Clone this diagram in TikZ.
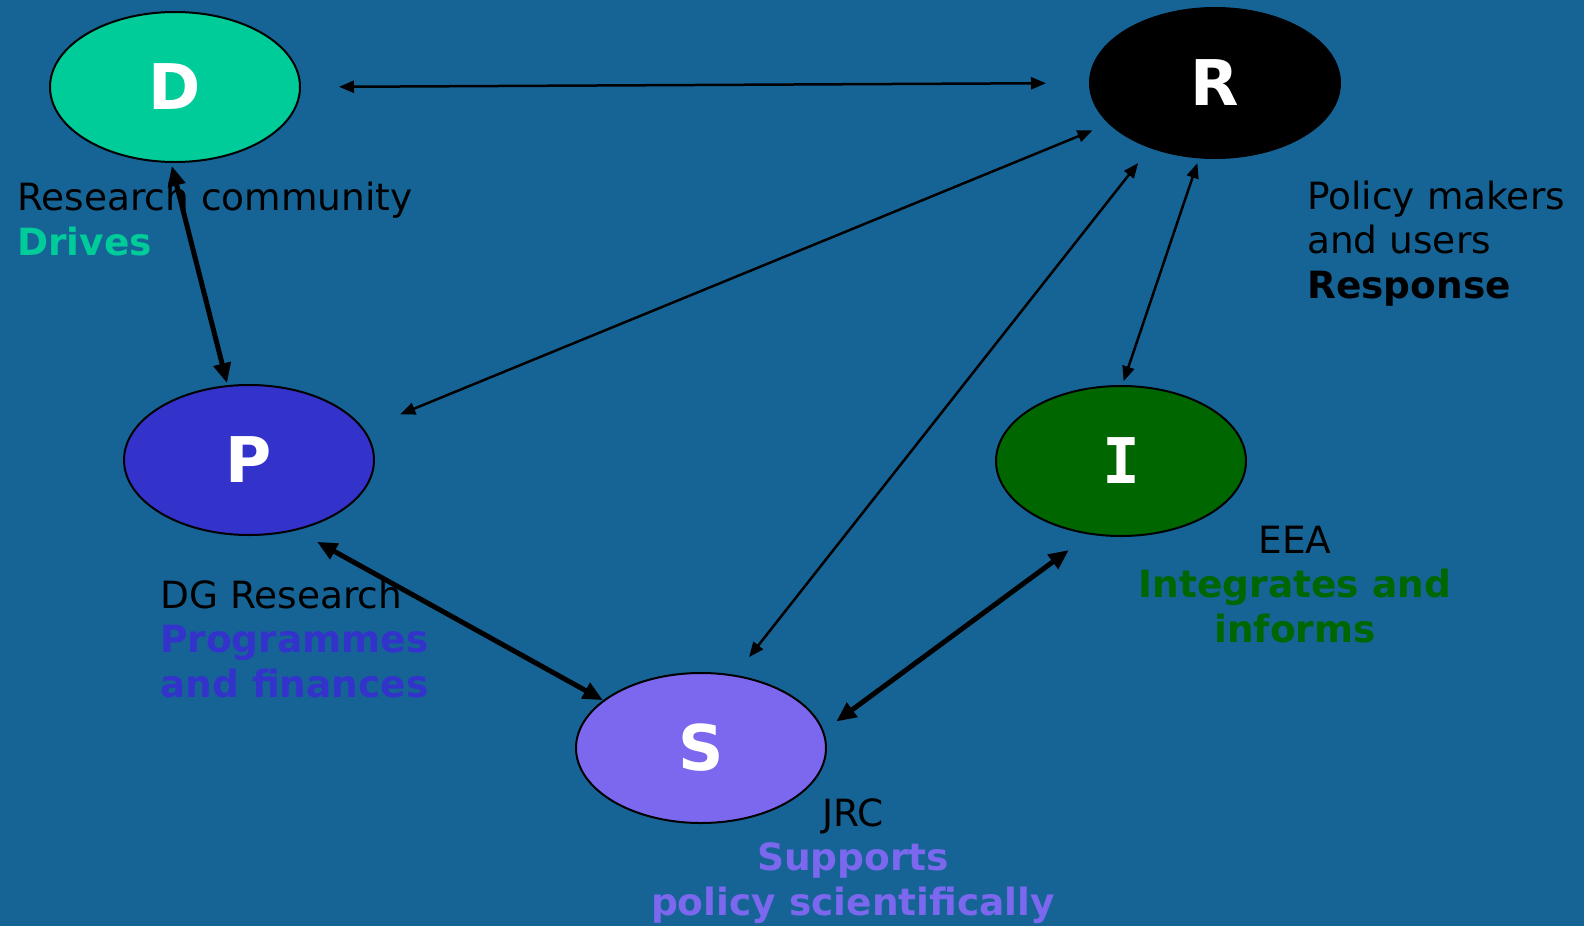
\documentclass[tikz,border=0pt]{standalone}
\usepackage{fontspec}
\setmainfont{DejaVu Sans}
\newfontfamily\monofam{DejaVu Sans Mono}
\usetikzlibrary{arrows.meta,shapes.geometric}
\definecolor{bgcol}{RGB}{22,100,150}
\definecolor{dcol}{RGB}{0,204,153}
\definecolor{pcol}{RGB}{51,51,204}
\definecolor{scol}{RGB}{123,104,238}
\definecolor{icol}{RGB}{0,102,0}
\tikzset{
  blob/.style={ellipse, draw=black, line width=2pt, minimum width=250pt, minimum height=150pt, inner sep=0pt, text=white, font={\fontsize{63}{70}\selectfont\bfseries}},
  lbl/.style={inner sep=0pt, text=black, font={\fontsize{37.5}{44.5}\selectfont}},
  thinarrow/.style={line width=2.5pt, {Triangle[length=15pt,width=12pt]}-{Triangle[length=15pt,width=12pt]}},
  thickarrow/.style={line width=5pt, {Triangle[length=20pt,width=17pt]}-{Triangle[length=20pt,width=17pt]}}
}
\begin{document}
\begin{tikzpicture}[x=1pt,y=-1pt]
\fill[bgcol] (0,0) rectangle (1584,926);
\useasboundingbox (0,0) rectangle (1584,926);

\node[blob, fill=dcol] (nD) at (175,87) {D};
\node[blob, fill=black] (nR) at (1215,83) {R};
\node[blob, fill=pcol] (nP) at (249,460) {P};
\node[blob, fill=scol] (nS) at (701,748) {S};
\node[blob, fill=icol] (nI) at (1121,461) {\monofam\bfseries I};

\node[lbl, anchor=base west, align=left] (tD) at (17,255) {Research community\\\textcolor{dcol}{\bfseries Drives}};
\node[lbl, anchor=base west, align=left] (tR) at (1307,298) {Policy makers\\and users\\\bfseries Response};
\node[lbl, anchor=base west, align=left] (tP) at (160,697) {DG Research\\\textcolor{pcol}{\bfseries Programmes}\\\textcolor{pcol}{\bfseries and finances}};
\node[lbl, anchor=base, align=center] (tS) at (853,915) {JRC\\\textcolor{scol}{\bfseries Supports}\\\textcolor{scol}{\bfseries policy scientifically}};
\node[lbl, anchor=base, align=center] (tI) at (1295,642) {EEA\\\textcolor{icol}{\bfseries Integrates and}\\\textcolor{icol}{\bfseries informs}};

\draw[thinarrow, shorten <=38pt, shorten >=43pt] (nD.east) -- (nR.west);
\draw[thickarrow, shorten <=3pt, shorten >=2pt] (nD.267) -- (nP.106);
\draw[thinarrow, shorten <=17.5pt, shorten >=39pt] (nR.201) -- (nP.15);
\draw[thinarrow, shorten <=19pt, shorten >=22.5pt] (nR.225) -- (nS.65);
\draw[thinarrow, shorten <=5pt, shorten >=4pt] (nR.258) -- (nI.89);
\draw[thickarrow, shorten <=23.5pt] (nP.304) -- (nS.154);
\draw[thickarrow, shorten <=15.5pt, shorten >=26pt] (nS.8) -- (nI.247);
\end{tikzpicture}
\end{document}
